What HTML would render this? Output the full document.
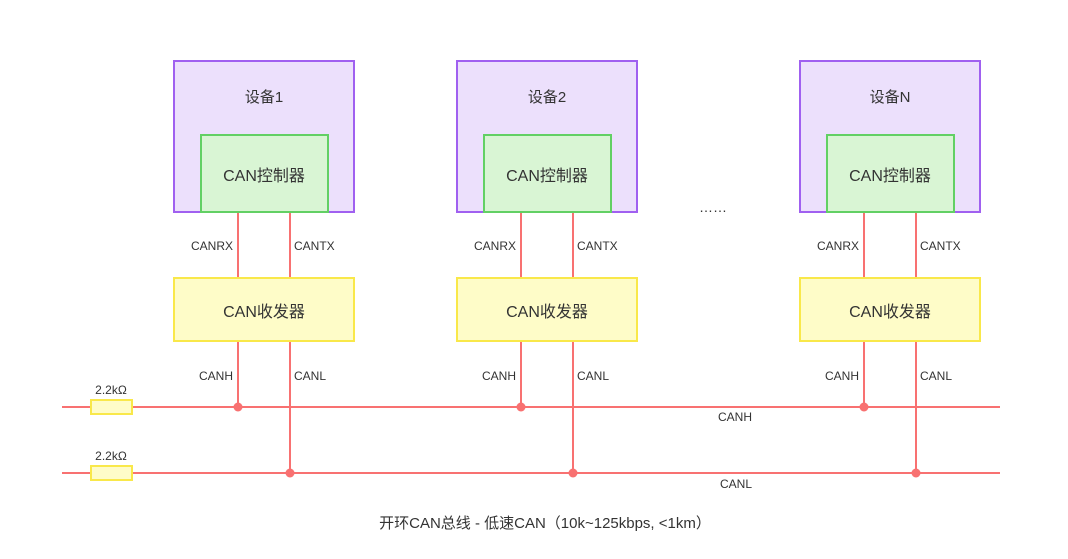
<!DOCTYPE html>
<html><head><meta charset="utf-8"><style>
body{margin:0;background:#fff}
svg text{font-family:"Liberation Sans","Noto Sans CJK SC",sans-serif;fill:#333}
</style></head><body>
<svg width="1068" height="554" xmlns="http://www.w3.org/2000/svg">
<g stroke="#f87171" stroke-width="2" fill="none">
<line x1="62" y1="407" x2="1000" y2="407"/>
<line x1="62" y1="473" x2="1000" y2="473"/>
</g>
<rect x="91" y="400" width="41" height="14" fill="#fefcc8" stroke="#f9e84a" stroke-width="2"/>
<rect x="91" y="466" width="41" height="14" fill="#fefcc8" stroke="#f9e84a" stroke-width="2"/>
<text x="111" y="394" font-size="12" text-anchor="middle">2.2kΩ</text>
<text x="111" y="460" font-size="12" text-anchor="middle">2.2kΩ</text>
<text x="735" y="421" font-size="12" text-anchor="middle">CANH</text>
<text x="736" y="488" font-size="12" text-anchor="middle">CANL</text>
<text x="713" y="212" font-size="14" text-anchor="middle">……</text>
<text x="545" y="528" font-size="15" text-anchor="middle">开环CAN总线 - 低速CAN（10k~125kbps, &lt;1km）</text>
<g id="d">
<g stroke="#f87171" stroke-width="2">
<line x1="238" y1="212" x2="238" y2="407"/>
<line x1="290" y1="212" x2="290" y2="473"/>
</g>
<circle cx="238" cy="407" r="4.5" fill="#f87171"/>
<circle cx="290" cy="473" r="4.5" fill="#f87171"/>
<rect x="174" y="61" width="180" height="151" fill="#ece0fc" stroke="#a060f0" stroke-width="2"/>
<rect x="201" y="135" width="127" height="77" fill="#d9f5d4" stroke="#62d064" stroke-width="2"/>
<rect x="174" y="278" width="180" height="63" fill="#fefcc8" stroke="#f9e84a" stroke-width="2"/>
<text x="264" y="181" font-size="16" text-anchor="middle">CAN控制器</text>
<text x="264" y="317" font-size="16" text-anchor="middle">CAN收发器</text>
<text x="233" y="250" font-size="12" text-anchor="end">CANRX</text>
<text x="294" y="250" font-size="12">CANTX</text>
<text x="233" y="380" font-size="12" text-anchor="end">CANH</text>
<text x="294" y="380" font-size="12">CANL</text>
</g>
<use href="#d" x="283"/>
<use href="#d" x="626"/>
<text x="264" y="102" font-size="15" text-anchor="middle">设备1</text>
<text x="547" y="102" font-size="15" text-anchor="middle">设备2</text>
<text x="890" y="102" font-size="15" text-anchor="middle">设备N</text>
</svg>
</body></html>
